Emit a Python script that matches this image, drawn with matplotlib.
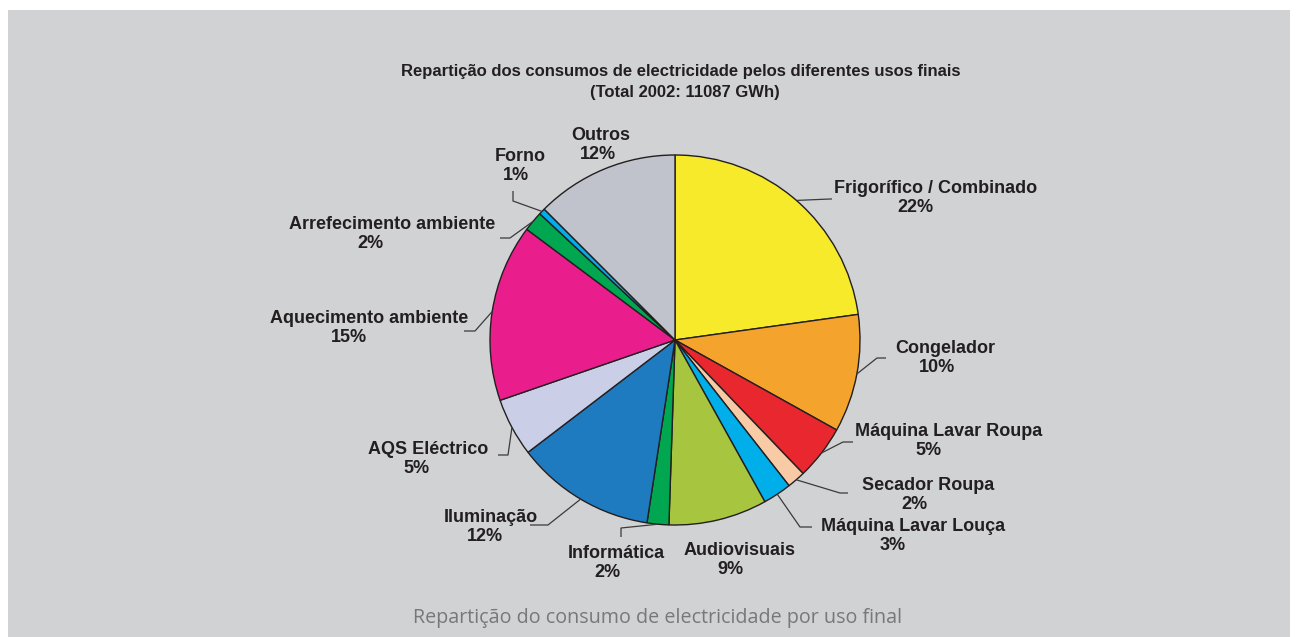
import numpy as np
import matplotlib
matplotlib.use("Agg")
from matplotlib import pyplot as plt
from matplotlib.patches import Rectangle

W, H = 1298, 637

# data
usos = ["Frigorífico / Combinado", "Congelador", "Máquina Lavar Roupa",
        "Secador Roupa", "Máquina Lavar Louça", "Audiovisuais", "Informática",
        "Iluminação", "AQS Eléctrico", "Aquecimento ambiente",
        "Arrefecimento ambiente", "Forno", "Outros"]
quota = [22.8, 10.3, 4.75, 1.6, 2.5, 8.6, 1.9, 12.2, 5.1, 15.5, 1.75, 0.55, 12.5]
quota_txt = ["22%", "10%", "5%", "2%", "3%", "9%", "2%", "12%", "5%", "15%", "2%", "1%", "12%"]
cores = ["#f7ea2b", "#f4a42c", "#e8282e", "#f8cba6", "#00aeea", "#a7c53f",
         "#00a650", "#1e7bc0", "#cacfe7", "#ea1d8d", "#00a650", "#00aeef", "#c0c3cb"]

titulo = ["Repartição dos consumos de electricidade pelos diferentes usos finais",
          "(Total 2002: 11087 GWh)"]
legenda = "Repartição do consumo de electricidade por uso final"

# label layout in pixels: (name x, name baseline, pct x)
lbl_pos = [(936, 193, 915), (945, 353, 937), (949, 436, 929), (928, 490, 914),
           (913, 531, 893), (740, 555, 730), (616, 558, 607), (491, 522, 485),
           (428, 454, 416), (369, 323, 349), (392, 229, 370), (520, 161, 516),
           (601, 140, 598)]
# leader lines: elbow and end point (None = no leader)
leaders = [((830, 199), (832, 199)), ((877, 358), (886, 358)), ((843, 442), (853, 442)),
           ((840, 493), (848, 493)), ((800, 527), (812, 527)), None,
           ((621, 528), (621, 537)), ((548, 525), (530, 525)), ((508, 455), (498, 455)),
           ((475, 331), (464, 331)), ((510, 238), (500, 238)), ((513, 201), (513, 191)),
           None]

cx, cy, r = 675, H - 340, 185
txt = "#231f20"

def P(x, y):
    return x, H - y

fig = plt.figure(figsize=(W / 100, H / 100), dpi=100, facecolor="white")
fig.patches.append(Rectangle((8 / W, 0), (W - 16) / W, (H - 10) / H,
                             transform=fig.transFigure, facecolor="#d1d2d4",
                             edgecolor="none", zorder=-10))
ax = fig.add_axes([0, 0, 1, 1])
ax.set_facecolor("none")

wedges, _ = ax.pie(quota, colors=cores, startangle=90, counterclock=False,
                   center=(cx, cy), radius=r,
                   wedgeprops=dict(edgecolor=txt, linewidth=1.0))
ax.set_xlim(0, W)
ax.set_ylim(0, H)
ax.set_aspect("equal")
ax.axis("off")

bold = dict(fontfamily=["Liberation Sans", "DejaVu Sans"], fontweight="bold",
            fontsize=13, color=txt, ha="center", va="baseline")

for w, nome, pct, pos, ld in zip(wedges, usos, quota_txt, lbl_pos, leaders):
    nx, ny, px_ = pos
    ax.text(*P(nx, ny), nome, **bold)
    ax.text(*P(px_, ny + 19), pct, **bold)
    if ld is not None:
        a = np.deg2rad((w.theta1 + w.theta2) / 2)
        sx, sy = cx + r * np.cos(a), cy + r * np.sin(a)
        (ex, ey), (fx, fy) = P(*ld[0]), P(*ld[1])
        ax.plot([sx, ex, fx], [sy, ey, fy], color="#3a3a3a", lw=0.9,
                solid_capstyle="butt")

tstyle = dict(ha="center", va="baseline", fontfamily=["Liberation Sans", "DejaVu Sans"],
              fontweight="bold", fontsize=12, color=txt)
ax.text(*P(681, 76), titulo[0], **tstyle)
ax.text(*P(685, 97), titulo[1], **tstyle)

ax.text(*P(658, 623), legenda, ha="center", va="baseline",
        fontfamily=["Open Sans", "DejaVu Sans"], fontsize=14.2, color="#77787b")

fig.savefig("out.png", dpi=100, facecolor="white")
